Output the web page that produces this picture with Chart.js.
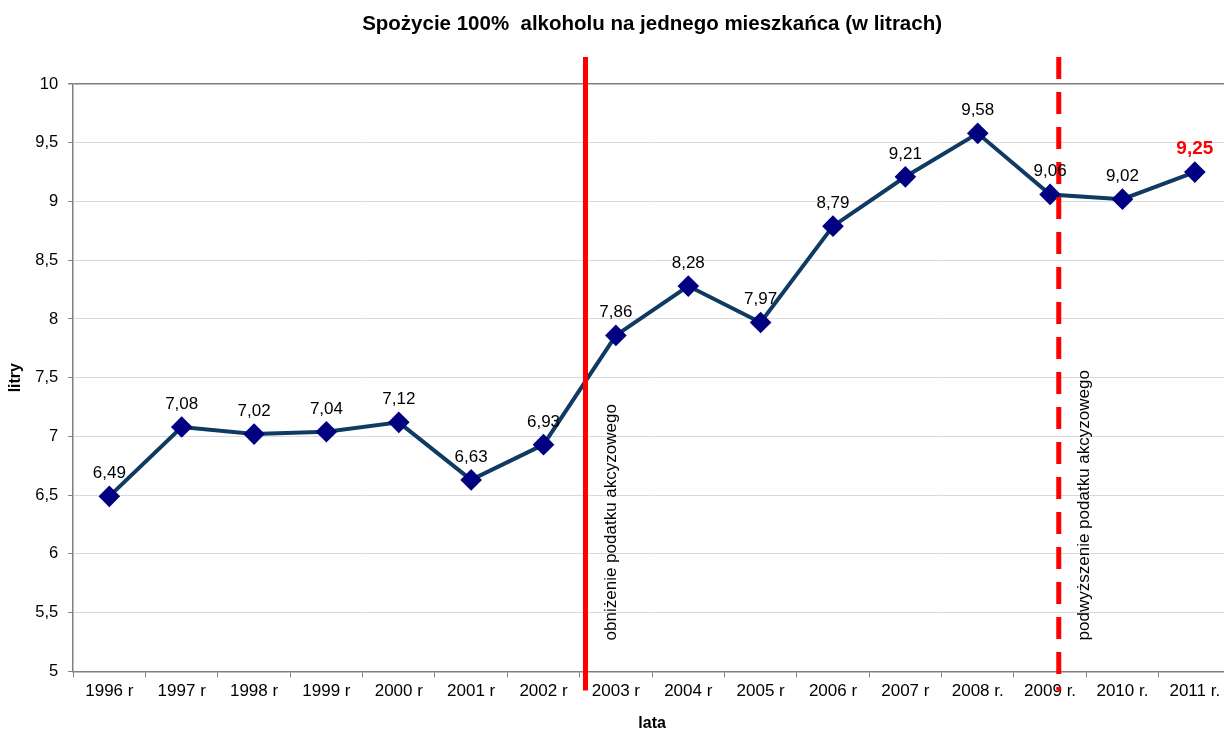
<!DOCTYPE html>
<html>
<head>
<meta charset="utf-8">
<script src="https://cdn.jsdelivr.net/npm/chart.js@4/dist/chart.umd.min.js"></script>
<style>
  body { margin: 0; background: #fff; }
  /* the original plot runs a few pixels past the right edge of the picture */
  #wrap { width: 1224px; height: 731px; overflow: hidden; }
</style>
</head>
<body>
<div id="wrap"><canvas id="alkoCanvas" width="1231" height="731"></canvas></div>
<script>
let years = ["1996 r", "1997 r", "1998 r", "1999 r", "2000 r", "2001 r", "2002 r", "2003 r",
             "2004 r", "2005 r", "2006 r", "2007 r", "2008 r.", "2009 r.", "2010 r.", "2011 r."];
let litres = [6.49, 7.08, 7.02, 7.04, 7.12, 6.63, 6.93, 7.86, 8.28, 7.97, 8.79, 9.21, 9.58, 9.06, 9.02, 9.25];
let yTicks = [5, 5.5, 6, 6.5, 7, 7.5, 8, 8.5, 9, 9.5, 10];

// tax changes, position on the category axis (fractional index)
let eventPos = [6.58, 13.12];
let eventText = ["obniżenie podatku akcyzowego", "podwyższenie podatku akcyzowego"];
let eventDash = [false, true];

let chartTitle = "Spożycie 100%  alkoholu na jednego mieszkańca (w litrach)";

const comma = v => String(v).replace(".", ",");
const FONT = "'Liberation Sans', Arial, sans-serif";

// title centred over the plot area, like the original
let titlePlugin = {
    id: "plotTitle",
    afterDraw(chart) {
        let c = chart.ctx;
        let area = chart.chartArea;
        c.save();
        c.font = "bold 20.5px " + FONT;
        c.fillStyle = "#000";
        c.textAlign = "center";
        c.textBaseline = "middle";
        c.fillText(chartTitle, (area.left + area.right) / 2, 24);
        c.restore();
    }
};

let labelsPlugin = {
    id: "pointLabels",
    afterDatasetsDraw(chart) {
        let c = chart.ctx;
        let meta = chart.getDatasetMeta(0);
        c.save();
        c.textAlign = "center";
        c.textBaseline = "alphabetic";
        meta.data.forEach((pt, i) => {
            let last = i === litres.length - 1;
            c.font = (last ? "bold 19px " : "17px ") + FONT;
            c.fillStyle = last ? "#ff0000" : "#000000";
            c.fillText(litres[i].toFixed(2).replace(".", ","), pt.x, pt.y - 18);
        });
        c.restore();
    }
};

let eventsPlugin = {
    id: "taxEvents",
    afterDatasetsDraw(chart) {
        let c = chart.ctx;
        let xs = chart.scales.x;
        let area = chart.chartArea;
        c.save();
        eventPos.forEach((p, i) => {
            let x = xs.getPixelForValue(p);
            c.strokeStyle = "#ff0000";
            c.lineWidth = 5;
            c.setLineDash(eventDash[i] ? [22, 13] : []);
            c.beginPath();
            c.moveTo(x, area.top - 27);
            c.lineTo(x, area.bottom + 19);
            c.stroke();
            c.save();
            c.translate(x + 26, area.bottom - 31);
            c.rotate(-Math.PI / 2);
            c.font = "17px " + FONT;
            c.fillStyle = "#000";
            c.textAlign = "left";
            c.textBaseline = "middle";
            c.fillText(eventText[i], 0, 0);
            c.restore();
        });
        c.restore();
    }
};

let data = {
    labels: years,
    datasets: [{
        data: litres,
        borderColor: "#0f3a62",
        borderWidth: 4,
        pointStyle: "rectRot",
        pointRadius: 8,
        pointHoverRadius: 8,
        pointBackgroundColor: "#000080",
        pointBorderColor: "#000080",
        tension: 0
    }]
};

let options = {
    responsive: false,
    animation: false,
    layout: { autoPadding: false, padding: { left: 2, right: 0, top: 84, bottom: -2 } },
    plugins: {
        legend: { display: false },
        tooltip: { enabled: false },
        title: { display: false }
    },
    scales: {
        y: {
            min: 5,
            max: 10,
            afterBuildTicks: axis => { axis.ticks = yTicks.map(v => ({ value: v })); },
            ticks: {
                color: "#000",
                font: { family: FONT, size: 16.5 },
                padding: 10,
                callback: v => comma(v)
            },
            grid: {
                color: ctx => ctx.tick && ctx.tick.value === 10 ? "#808080" : "#d9d9d9",
                lineWidth: ctx => ctx.tick && ctx.tick.value === 10 ? 1.5 : 1,
                tickLength: 5,
                tickColor: "#808080"
            },
            border: { color: "#808080", width: 1.5 },
            title: {
                display: true,
                text: "litry",
                color: "#000",
                font: { family: FONT, size: 16, weight: "bold" },
                padding: { top: 4, bottom: 0 }
            }
        },
        x: {
            offset: true,
            ticks: {
                color: "#000",
                font: { family: FONT, size: 17 },
                maxRotation: 0,
                padding: 4
            },
            grid: {
                offset: true,
                drawOnChartArea: false,
                tickLength: 6,
                color: "#808080"
            },
            border: { color: "#808080", width: 1.5 },
            title: {
                display: true,
                text: "lata",
                color: "#000",
                font: { family: FONT, size: 16, weight: "bold" },
                padding: { top: 8, bottom: 0 }
            }
        }
    }
};

var alkoChart = new Chart(document.getElementById("alkoCanvas"), {
    type: "line",
    data: data,
    options: options,
    plugins: [eventsPlugin, labelsPlugin, titlePlugin]
});
</script>
</body>
</html>
